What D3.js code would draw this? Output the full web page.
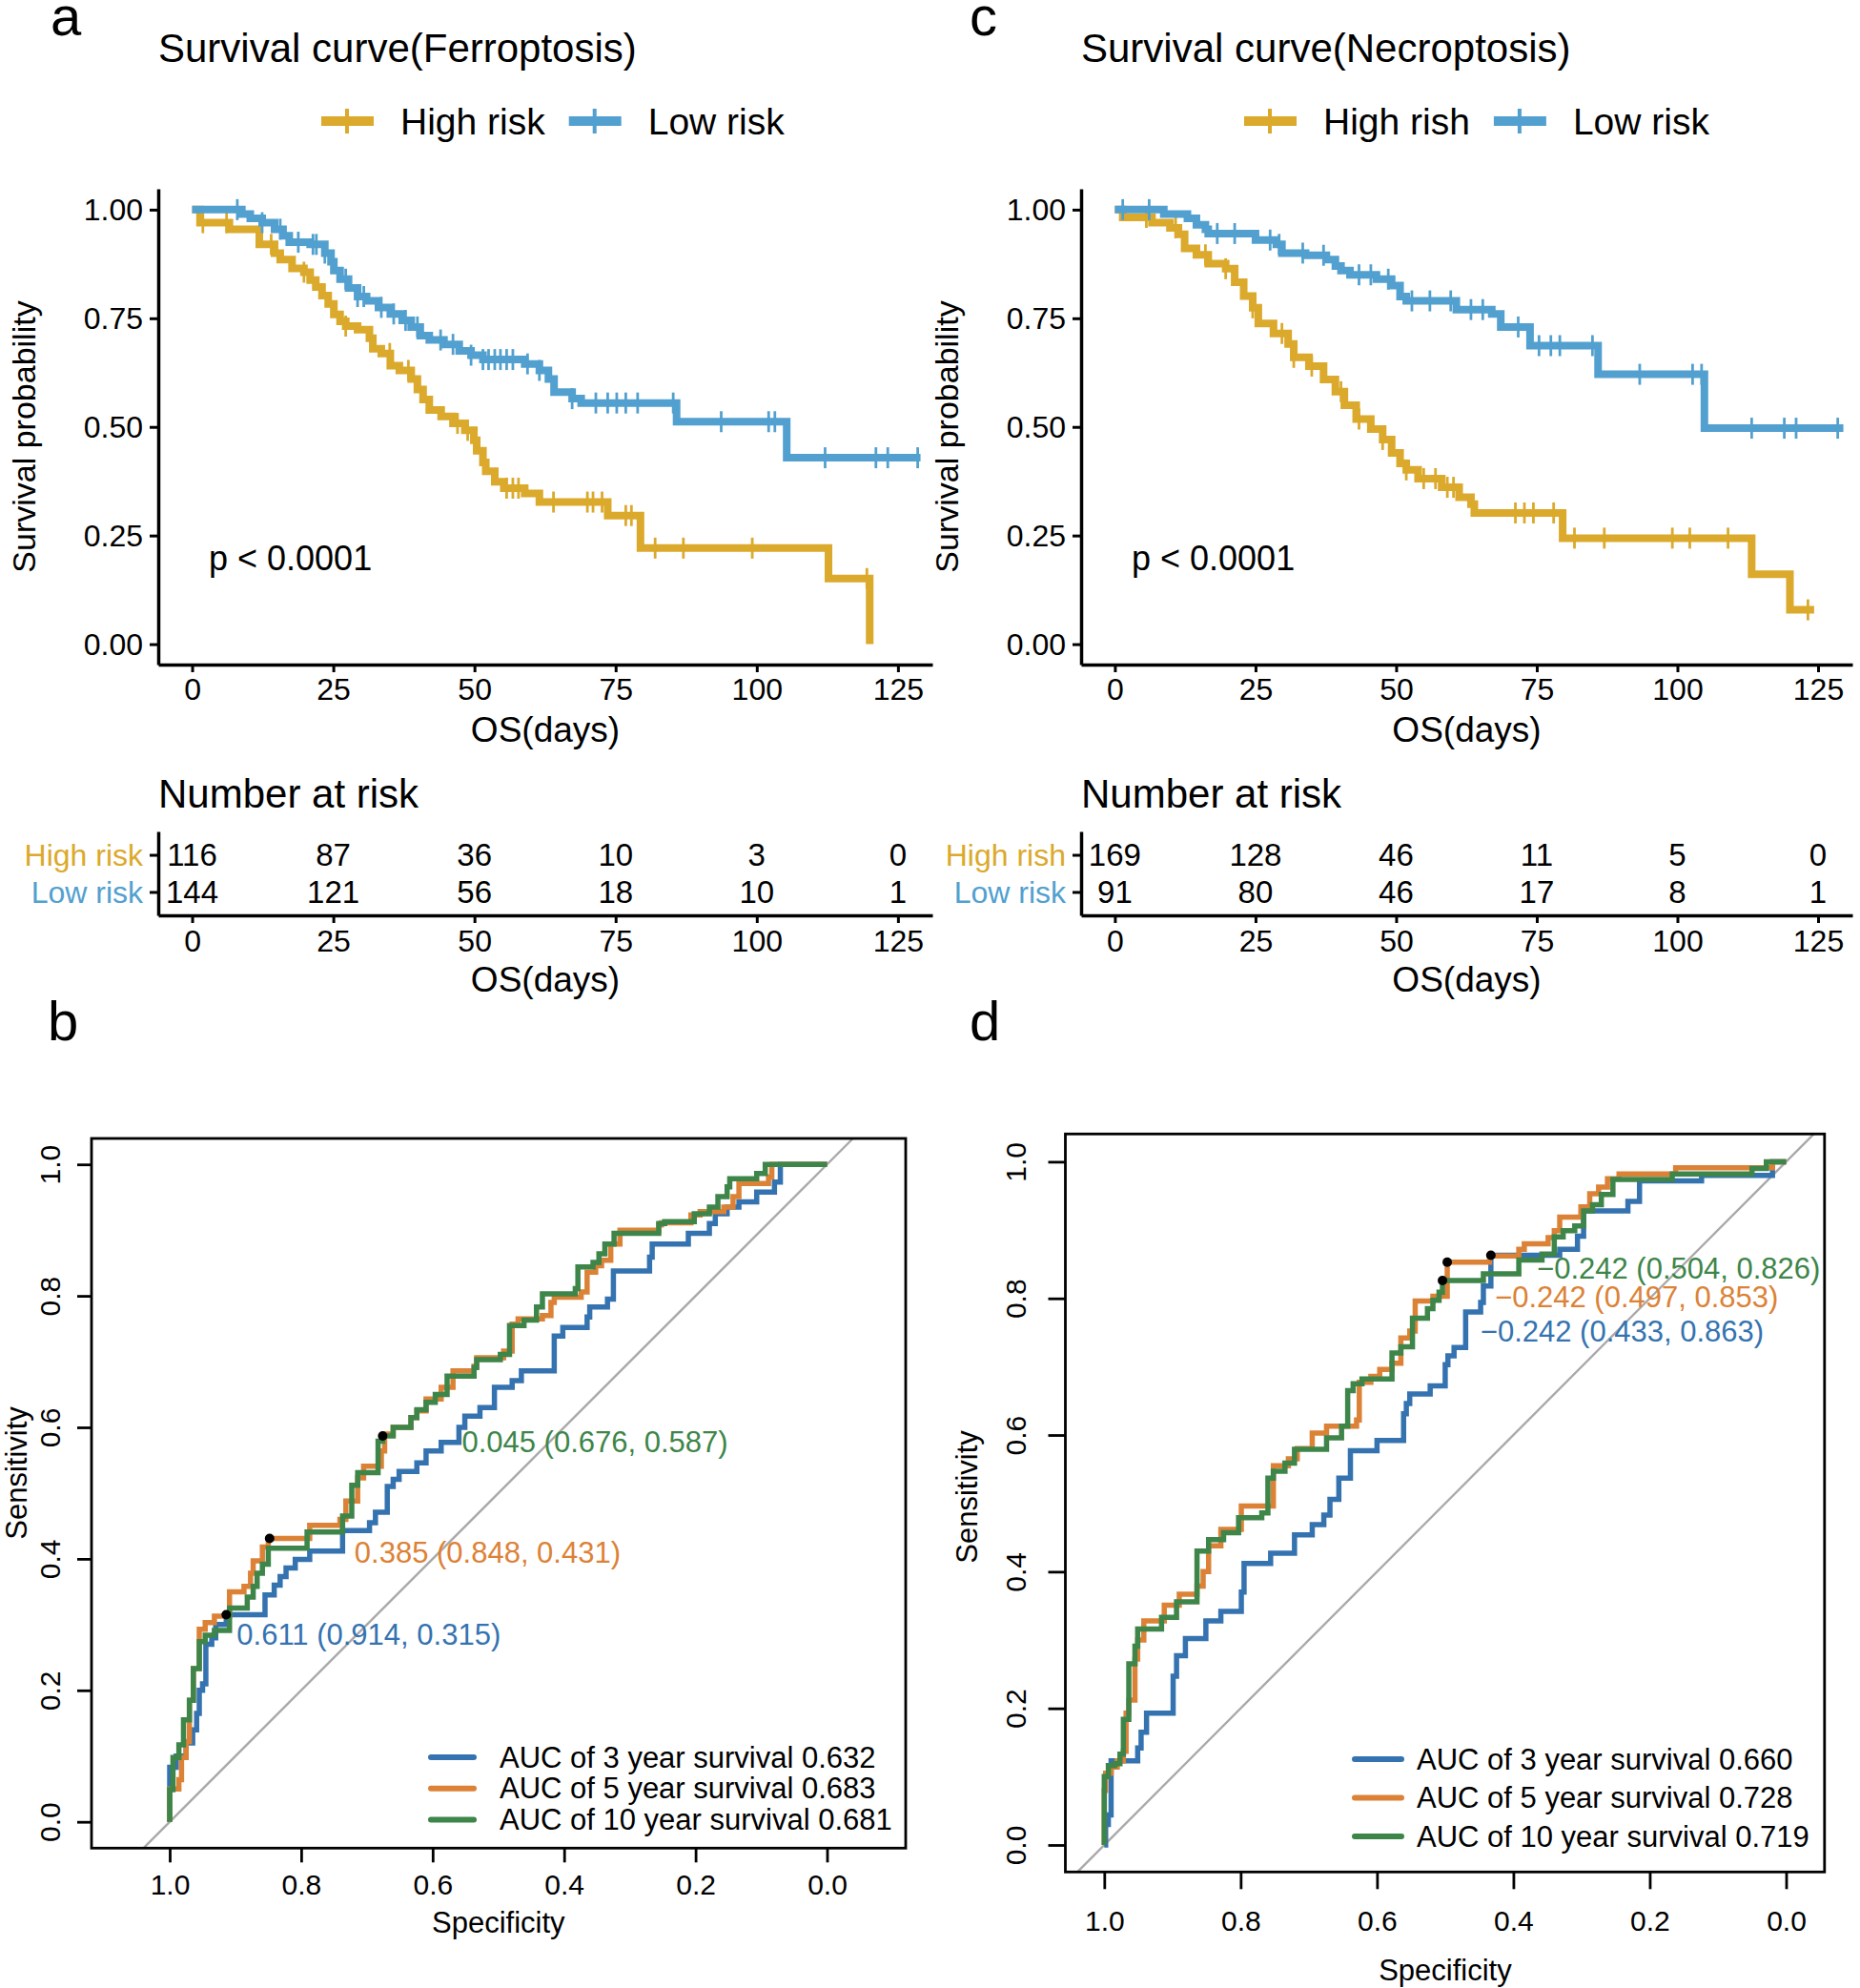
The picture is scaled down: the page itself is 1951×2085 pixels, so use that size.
<!DOCTYPE html>
<html>
<head>
<meta charset="utf-8">
<script src="https://cdn.jsdelivr.net/npm/d3@7"></script>
<style>
  body { margin: 0; background: #fff; }
  svg text { font-family: "Liberation Sans", Arial, Helvetica, sans-serif; fill: #000; }
</style>
</head>
<body>
<svg id="fig" width="1951" height="2085"></svg>
<script>
// ---------------- data ----------------
var timeTicks = [0, 25, 50, 75, 100, 125];
var survTicks = [0, 0.25, 0.5, 0.75, 1];
var rocTicks = [1, 0.8, 0.6, 0.4, 0.2, 0];
var riskColors = ["#DBA92B", "#52A0CF"];
var rocColors = ["#3473B0", "#DC8236", "#3D8549"];

var ferroLabels = ["High risk", "Low risk"];
var necroLabels = ["High rish", "Low risk"];

// KM steps [day, survival]
var ferroHigh = [[0,1],[1.4,0.97],[6.6,0.955],[11.9,0.92],[14.6,0.90],[15.6,0.885],[17.7,0.865],[19.8,0.856],
  [20.9,0.838],[21.9,0.822],[23,0.802],[24.1,0.783],[25.1,0.759],[26.2,0.743],[27.2,0.732],[29.3,0.724],
  [31.4,0.704],[32,0.68],[33.5,0.669],[35.1,0.641],[36.7,0.63],[38.8,0.61],[39.9,0.586],[40.9,0.563],
  [42,0.539],[44.1,0.524],[46.2,0.508],[48.3,0.492],[49.9,0.469],[50.4,0.445],[51.5,0.418],[52,0.398],
  [53.6,0.374],[55.2,0.359],[58.9,0.347],[61.5,0.327],[73.6,0.296],[79.4,0.221],[112.7,0.151],[120,0]];
var ferroLow = [[0,1],[8.8,0.99],[10.3,0.98],[12.4,0.97],[14.6,0.955],[16.1,0.94],[17.2,0.925],[20.9,0.92],
  [23.5,0.90],[24.6,0.88],[25.1,0.86],[26.2,0.84],[27.7,0.82],[29.3,0.80],[30.9,0.79],[33,0.775],[35.1,0.76],
  [37.2,0.745],[38.8,0.73],[40.4,0.71],[42,0.70],[44.6,0.69],[47.3,0.675],[49.4,0.665],[51.5,0.655],
  [58.9,0.645],[61.5,0.63],[63.1,0.61],[64.1,0.58],[67.3,0.565],[68.9,0.555],[85.8,0.512],[105.3,0.429],[129,0.429]];
var ferroHighCens = [1.9,6.1,14,19.8,27.2,35,38.3,47,48.8,55.7,56.8,57.8,64,70,71,72.6,76.8,77.8,82,87,99.2,119.5];
var ferroLowCens = [8,12.4,15.6,18.8,21.4,22,23.5,27.2,29.3,30.4,33.5,35.7,37.8,39.9,44,46.2,49.4,51.5,52.5,53.6,
  54.6,55.7,56.8,59.4,61.5,67.3,71.5,73.6,75.2,76.8,78.9,85.2,93.7,102.1,103.2,112.1,121.1,123.2,128.5];
var ferroAtRisk = [[116,87,36,10,3,0],[144,121,56,18,10,1]];

var necroHigh = [[0,1],[1.4,0.982],[6.6,0.97],[9.8,0.958],[11.3,0.943],[12.4,0.911],[14.5,0.896],[16.6,0.876],
  [19.7,0.864],[21.3,0.833],[22.9,0.801],[24.5,0.774],[25.5,0.738],[28.2,0.715],[30.8,0.691],[31.8,0.66],
  [34.5,0.64],[37.1,0.609],[39.2,0.581],[40.8,0.55],[42.9,0.518],[45.5,0.495],[47.6,0.471],[49.2,0.44],
  [50.7,0.416],[51.8,0.401],[53.9,0.381],[58.1,0.361],[61.2,0.338],[63.3,0.322],[63.9,0.302],[79.6,0.244],
  [113.2,0.161],[120,0.079],[124.3,0.079]];
var necroLow = [[0,1],[8.7,0.99],[12.9,0.98],[14.5,0.965],[16.1,0.955],[16.6,0.945],[25,0.93],[28.7,0.92],
  [29.7,0.90],[33.9,0.895],[37.6,0.885],[39.2,0.87],[40.2,0.86],[41.8,0.85],[46.5,0.84],[49.2,0.825],
  [50.7,0.80],[51.8,0.79],[60.7,0.77],[67,0.76],[68.6,0.73],[73.8,0.687],[85.9,0.621],[104.8,0.497],[129.5,0.497]];
var necroHighCens = [5.6,10.8,16.1,19.7,24.5,29.7,31.8,35,40.2,43.4,47.6,51.8,54.9,57,59.1,60.2,71.2,72.8,74.4,
  78,81.7,87,99.1,102.2,109,123.2];
var necroLowCens = [1.4,6.1,18.2,21.3,27.6,29.2,33.4,37.1,43.4,45.5,48.6,52.8,56,59.7,63.3,65.4,71.7,75.4,77.5,
  79.1,84.9,93.3,102.7,104.3,113.2,119,121.1,128.5];
var necroAtRisk = [[169,128,46,11,5,0],[91,80,46,17,8,1]];

// ROC steps [specificity, sensitivity]
var rocYears = ["3", "5", "10"];
var ferroAUC = [0.632, 0.683, 0.681];
var necroAUC = [0.660, 0.728, 0.719];
var ferroThr = [[0.611,0.914,0.315],[0.385,0.848,0.431],[0.045,0.676,0.587]];
var necroThr = [[-0.242,0.433,0.863],[-0.242,0.497,0.853],[-0.242,0.504,0.826]];

var ferroRoc3 = [[1,0],[1,0.083],[0.99,0.1],[0.975,0.12],[0.965,0.14],[0.959,0.165],[0.955,0.2],[0.95,0.21],
  [0.945,0.27],[0.936,0.28],[0.93,0.3],[0.914,0.315],[0.855,0.345],[0.841,0.36],[0.832,0.373],[0.823,0.386],
  [0.809,0.399],[0.787,0.412],[0.737,0.443],[0.696,0.455],[0.687,0.471],[0.669,0.51],[0.66,0.521],[0.651,0.533],
  [0.624,0.546],[0.61,0.564],[0.587,0.577],[0.56,0.6],[0.551,0.617],[0.528,0.63],[0.506,0.661],[0.479,0.671],
  [0.465,0.686],[0.415,0.739],[0.402,0.752],[0.365,0.768],[0.361,0.783],[0.334,0.795],[0.325,0.838],[0.27,0.859],
  [0.266,0.879],[0.211,0.895],[0.179,0.91],[0.17,0.925],[0.152,0.935],[0.134,0.943],[0.107,0.958],[0.08,0.973],
  [0.071,1],[0,1]];
var ferroRoc5 = [[1,0],[1,0.05],[0.986,0.064],[0.982,0.098],[0.975,0.122],[0.97,0.185],[0.964,0.233],[0.955,0.293],
  [0.946,0.303],[0.932,0.313],[0.909,0.35],[0.887,0.358],[0.877,0.378],[0.873,0.397],[0.859,0.418],[0.85,0.431],
  [0.787,0.451],[0.741,0.46],[0.732,0.488],[0.714,0.523],[0.705,0.541],[0.678,0.564],[0.673,0.59],[0.66,0.6],
  [0.633,0.615],[0.624,0.625],[0.61,0.643],[0.587,0.661],[0.569,0.686],[0.537,0.693],[0.533,0.706],[0.492,0.716],
  [0.479,0.757],[0.47,0.765],[0.433,0.77],[0.42,0.79],[0.415,0.798],[0.374,0.806],[0.365,0.836],[0.352,0.846],
  [0.343,0.854],[0.329,0.879],[0.315,0.9],[0.256,0.908],[0.252,0.911],[0.207,0.923],[0.193,0.928],[0.157,0.935],
  [0.143,0.951],[0.134,0.971],[0.089,0.981],[0.084,1],[0,1]];
var ferroRoc10 = [[1,0],[1,0.049],[0.995,0.098],[0.986,0.117],[0.979,0.155],[0.97,0.185],[0.964,0.233],[0.955,0.274],
  [0.946,0.284],[0.932,0.291],[0.909,0.325],[0.882,0.342],[0.873,0.358],[0.867,0.378],[0.859,0.392],[0.85,0.416],
  [0.791,0.441],[0.737,0.465],[0.723,0.512],[0.714,0.531],[0.683,0.579],[0.676,0.587],[0.66,0.6],[0.633,0.615],
  [0.624,0.627],[0.61,0.638],[0.596,0.65],[0.578,0.678],[0.537,0.691],[0.533,0.703],[0.497,0.711],[0.483,0.755],
  [0.461,0.763],[0.442,0.783],[0.433,0.803],[0.383,0.811],[0.379,0.844],[0.356,0.851],[0.347,0.864],[0.338,0.879],
  [0.324,0.895],[0.256,0.91],[0.247,0.913],[0.202,0.925],[0.179,0.935],[0.166,0.951],[0.152,0.966],[0.148,0.978],
  [0.107,0.986],[0.094,1],[0,1]];

var necroRoc3 = [[1,0],[0.998,0.03],[0.994,0.044],[0.99,0.123],[0.951,0.142],[0.946,0.165],[0.938,0.193],
  [0.899,0.247],[0.894,0.277],[0.881,0.302],[0.851,0.328],[0.829,0.342],[0.799,0.37],[0.795,0.412],[0.756,0.427],
  [0.721,0.454],[0.695,0.469],[0.678,0.483],[0.669,0.506],[0.656,0.537],[0.639,0.577],[0.6,0.592],[0.561,0.631],
  [0.557,0.646],[0.552,0.66],[0.522,0.672],[0.5,0.703],[0.496,0.716],[0.487,0.728],[0.47,0.78],[0.448,0.794],
  [0.444,0.818],[0.433,0.863],[0.332,0.872],[0.306,0.891],[0.297,0.928],[0.232,0.942],[0.215,0.972],[0.124,0.98],
  [0.02,1],[0,1]];
var necroRoc5 = [[1,0],[1,0.08],[0.998,0.105],[0.99,0.114],[0.981,0.123],[0.972,0.137],[0.968,0.193],[0.964,0.212],
  [0.955,0.272],[0.951,0.3],[0.942,0.328],[0.912,0.351],[0.89,0.367],[0.864,0.379],[0.855,0.4],[0.847,0.438],
  [0.829,0.462],[0.799,0.496],[0.752,0.555],[0.73,0.565],[0.717,0.58],[0.695,0.603],[0.674,0.613],[0.63,0.622],
  [0.626,0.677],[0.609,0.686],[0.596,0.696],[0.578,0.705],[0.565,0.742],[0.552,0.752],[0.544,0.796],[0.518,0.803],
  [0.497,0.853],[0.435,0.862],[0.392,0.872],[0.384,0.88],[0.349,0.889],[0.34,0.899],[0.332,0.919],[0.301,0.934],
  [0.288,0.953],[0.275,0.963],[0.262,0.975],[0.245,0.982],[0.162,0.991],[0.02,1],[0,1]];
var necroRoc10 = [[1,0],[1,0.1],[0.994,0.116],[0.985,0.119],[0.977,0.133],[0.972,0.184],[0.964,0.265],[0.955,0.291],
  [0.951,0.316],[0.916,0.333],[0.894,0.356],[0.864,0.43],[0.847,0.447],[0.825,0.457],[0.803,0.479],[0.769,0.486],
  [0.76,0.537],[0.752,0.547],[0.735,0.559],[0.721,0.579],[0.674,0.596],[0.652,0.613],[0.643,0.665],[0.635,0.675],
  [0.622,0.682],[0.578,0.72],[0.565,0.729],[0.548,0.771],[0.526,0.785],[0.518,0.797],[0.509,0.809],[0.504,0.826],
  [0.444,0.836],[0.392,0.856],[0.358,0.865],[0.34,0.89],[0.327,0.899],[0.31,0.906],[0.297,0.928],[0.284,0.937],
  [0.271,0.952],[0.254,0.974],[0.167,0.982],[0.05,0.99],[0.029,1],[0,1]];

// ---------------- drawing ----------------
var svg = d3.select("#fig");

function survAt(curve, t) {
  var s = curve[0][1];
  curve.forEach(function(p) { if (p[0] <= t) s = p[1]; });
  return s;
}

function styleAxis(sel, fs) {
  sel.select(".domain").attr("stroke", "#000").attr("stroke-width", 3.5);
  sel.selectAll(".tick line").attr("stroke", "#000").attr("stroke-width", 3);
  sel.selectAll(".tick text").attr("font-size", fs).attr("font-family", null);
  sel.attr("font-family", null);
}

function drawKM(c) {
  var g = svg.append("g");
  var x = d3.scaleLinear().domain([-6, 131.1]).range([c.left, c.right]);
  var y = d3.scaleLinear().domain([-0.047, 1.048]).range([697, 198]);

  g.append("text").attr("x", c.letterX).attr("y", 37).attr("font-size", 58).text(c.letter);
  g.append("text").attr("x", c.left).attr("y", 50).attr("dominant-baseline", "central")
    .attr("font-size", 42).text(c.title);

  // legend
  var lg = g.append("g").attr("transform", "translate(" + (c.left + 171) + ",127)");
  var lx = 0;
  c.labels.forEach(function(lab, i) {
    lg.append("line").attr("x1", lx).attr("x2", lx + 55).attr("y1", 0).attr("y2", 0)
      .attr("stroke", riskColors[i]).attr("stroke-width", 10);
    lg.append("line").attr("x1", lx + 27).attr("x2", lx + 27).attr("y1", -13).attr("y2", 13)
      .attr("stroke", riskColors[i]).attr("stroke-width", 4);
    var t = lg.append("text").attr("x", lx + 83).attr("y", 0).attr("dominant-baseline", "central")
      .attr("font-size", 39).text(lab);
    lx += 83 + t.node().getComputedTextLength() + 25;
  });

  // axes
  var ya = g.append("g").attr("transform", "translate(" + c.left + ",0)")
    .call(d3.axisLeft(y).tickValues(survTicks).tickFormat(d3.format(".2f")).tickSize(9).tickSizeOuter(0).tickPadding(7));
  styleAxis(ya, 32);
  ya.selectAll(".tick text").attr("dy", null).attr("dominant-baseline", "central");

  var xa = g.append("g").attr("transform", "translate(0,697)")
    .call(d3.axisBottom(x).tickValues(timeTicks).tickSize(8).tickSizeOuter(0));
  styleAxis(xa, 32);
  xa.selectAll(".tick text").attr("y", 26).attr("dy", null).attr("dominant-baseline", "central");

  g.append("text").attr("x", (c.left + c.right) / 2).attr("y", 765).attr("text-anchor", "middle")
    .attr("dominant-baseline", "central").attr("font-size", 37).text("OS(days)");
  g.append("text").attr("transform", "translate(" + (c.left - 141) + ",458) rotate(-90)")
    .attr("text-anchor", "middle").attr("dominant-baseline", "central").attr("font-size", 34)
    .text("Survival probability");
  g.append("text").attr("x", c.left + 53).attr("y", 585).attr("dominant-baseline", "central")
    .attr("font-size", 36).text("p < 0.0001");

  // curves
  var line = d3.line().curve(d3.curveStepAfter).x(function(d) { return x(d[0]); }).y(function(d) { return y(d[1]); });
  c.curves.forEach(function(curve, i) {
    g.append("path").datum(curve).attr("d", line).attr("fill", "none")
      .attr("stroke", riskColors[i]).attr("stroke-width", 8);
    g.selectAll(null).data(c.cens[i]).enter().append("line")
      .attr("x1", function(t) { return x(t); }).attr("x2", function(t) { return x(t); })
      .attr("y1", function(t) { return y(survAt(curve, t)) - 11; })
      .attr("y2", function(t) { return y(survAt(curve, t)) + 11; })
      .attr("stroke", riskColors[i]).attr("stroke-width", 2.8);
  });

  // risk table
  g.append("text").attr("x", c.left).attr("y", 832).attr("dominant-baseline", "central")
    .attr("font-size", 42).text("Number at risk");
  var ry = d3.scalePoint().domain(c.labels).range([872, 960]).padding(0.63);
  var rya = g.append("g").attr("transform", "translate(" + c.left + ",0)")
    .call(d3.axisLeft(ry).tickSize(9).tickSizeOuter(0).tickPadding(7));
  styleAxis(rya, 32);
  rya.selectAll(".tick text").attr("dy", null).attr("dominant-baseline", "central")
    .style("fill", function(d, i) { return riskColors[i]; });
  var rxa = g.append("g").attr("transform", "translate(0,960)")
    .call(d3.axisBottom(x).tickValues(timeTicks).tickSize(8).tickSizeOuter(0));
  styleAxis(rxa, 32);
  rxa.selectAll(".tick text").attr("y", 27).attr("dy", null).attr("dominant-baseline", "central");
  c.atRisk.forEach(function(row, i) {
    g.selectAll(null).data(row).enter().append("text")
      .attr("x", function(d, j) { return x(timeTicks[j]); })
      .attr("y", ry(c.labels[i]))
      .attr("text-anchor", "middle").attr("dominant-baseline", "central").attr("font-size", 33)
      .text(function(d) { return d; });
  });
  g.append("text").attr("x", (c.left + c.right) / 2).attr("y", 1027).attr("text-anchor", "middle")
    .attr("dominant-baseline", "central").attr("font-size", 37).text("OS(days)");
}

function drawROC(c) {
  var g = svg.append("g");
  var x = d3.scaleLinear().domain([1, 0]).range([c.x1, c.x0]);
  var y = d3.scaleLinear().domain([0, 1]).range([c.y0, c.y1]);
  var b = c.box;

  g.append("text").attr("x", c.letterX).attr("y", 1091).attr("font-size", 58).text(c.letter);

  // diagonal
  var sb = y.invert(b[3]), st = y.invert(b[1]);
  g.append("line").attr("x1", x(1 - sb)).attr("y1", b[3]).attr("x2", x(1 - st)).attr("y2", b[1])
    .attr("stroke", "#A9A9A9").attr("stroke-width", 2.4);

  var line = d3.line().curve(d3.curveStepAfter).x(function(d) { return x(d[0]); }).y(function(d) { return y(d[1]); });
  c.curves.forEach(function(curve, i) {
    g.append("path").datum(curve).attr("d", line).attr("fill", "none")
      .attr("stroke", rocColors[i]).attr("stroke-width", 5.5);
  });

  // thresholds
  c.thr.forEach(function(t, i) {
    g.append("circle").attr("cx", x(t[1])).attr("cy", y(t[2])).attr("r", 5).attr("fill", "#000");
    g.append("text").attr("x", x(t[1]) + c.thrOff[i][0]).attr("y", y(t[2]) + c.thrOff[i][1])
      .attr("dominant-baseline", "central").attr("font-size", 31).style("fill", rocColors[i])
      .text(d3.format(".3f")(t[0]) + " (" + d3.format(".3f")(t[1]) + ", " + d3.format(".3f")(t[2]) + ")");
  });

  // box
  g.append("rect").attr("x", b[0]).attr("y", b[1]).attr("width", b[2] - b[0]).attr("height", b[3] - b[1])
    .attr("fill", "none").attr("stroke", "#000").attr("stroke-width", 2.8);

  var xa = g.append("g").attr("transform", "translate(0," + b[3] + ")")
    .call(d3.axisBottom(x).tickValues(rocTicks).tickFormat(d3.format(".1f")).tickSize(c.tickLen).tickSizeOuter(0));
  xa.select(".domain").remove();
  xa.selectAll(".tick line").attr("stroke", "#000").attr("stroke-width", 2.8);
  xa.attr("font-family", null);
  xa.selectAll(".tick text").attr("font-size", 30)
    .attr("y", c.xLabY - b[3]).attr("dy", null).attr("dominant-baseline", "central");

  var ya = g.append("g").attr("transform", "translate(" + b[0] + ",0)")
    .call(d3.axisLeft(y).tickValues(rocTicks).tickFormat(d3.format(".1f")).tickSize(c.tickLen).tickSizeOuter(0));
  ya.select(".domain").remove();
  ya.selectAll(".tick line").attr("stroke", "#000").attr("stroke-width", 2.8);
  ya.attr("font-family", null);
  ya.selectAll(".tick text").attr("font-size", 30)
    .attr("x", 0).attr("dy", null).attr("y", -(b[0] - c.yLabX))
    .attr("transform", "rotate(-90)").attr("text-anchor", "middle").attr("dominant-baseline", "central");

  g.append("text").attr("x", (c.x1 + c.x0) / 2).attr("y", c.specY).attr("text-anchor", "middle")
    .attr("dominant-baseline", "central").attr("font-size", 31).text("Specificity");
  g.append("text").attr("transform", "translate(" + c.sensX + "," + c.sensY + ") rotate(-90)")
    .attr("text-anchor", "middle").attr("dominant-baseline", "central").attr("font-size", 31).text("Sensitivity");

  // legend
  c.auc.forEach(function(a, i) {
    var ly = c.legY + i * c.legStep;
    g.append("line").attr("x1", c.legX + 3).attr("x2", c.legX + c.legLen - 3).attr("y1", ly).attr("y2", ly)
      .attr("stroke", rocColors[i]).attr("stroke-width", 6).attr("stroke-linecap", "round");
    g.append("text").attr("x", c.legTextX).attr("y", ly).attr("dominant-baseline", "central")
      .attr("font-size", 31).text("AUC of " + rocYears[i] + " year survival " + d3.format(".3f")(a));
  });
}

drawKM({ left: 166, right: 978, letter: "a", letterX: 53, title: "Survival curve(Ferroptosis)",
  labels: ferroLabels, curves: [ferroHigh, ferroLow], cens: [ferroHighCens, ferroLowCens], atRisk: ferroAtRisk });
drawKM({ left: 1134, right: 1943, letter: "c", letterX: 1017, title: "Survival curve(Necroptosis)",
  labels: necroLabels, curves: [necroHigh, necroLow], cens: [necroHighCens, necroLowCens], atRisk: necroAtRisk });

drawROC({ letter: "b", letterX: 50, x1: 178, x0: 867.5, y0: 1910.7, y1: 1221.2, box: [96, 1194, 950, 1938.3],
  tickLen: 15, xLabY: 1977, specY: 2016, yLabX: 52, sensX: 17, sensY: 1545,
  legX: 449, legLen: 51, legTextX: 524, legY: 1843, legStep: 32.7,
  curves: [ferroRoc3, ferroRoc5, ferroRoc10], thr: ferroThr, auc: ferroAUC,
  thrOff: [[11, 21], [89, 15], [83, 7]] });
drawROC({ letter: "d", letterX: 1017, x1: 1158.3, x0: 1873.5, y0: 1935, y1: 1218.4, box: [1117.5, 1189.3, 1913.8, 1963.3],
  tickLen: 18, xLabY: 2015, specY: 2066, yLabX: 1065, sensX: 1014, sensY: 1570,
  legX: 1418, legLen: 55, legTextX: 1486, legY: 1845, legStep: 40.5,
  curves: [necroRoc3, necroRoc5, necroRoc10], thr: necroThr, auc: necroAUC,
  thrOff: [[-11, 80], [50, 37], [99, -13]] });
</script>
</body>
</html>
